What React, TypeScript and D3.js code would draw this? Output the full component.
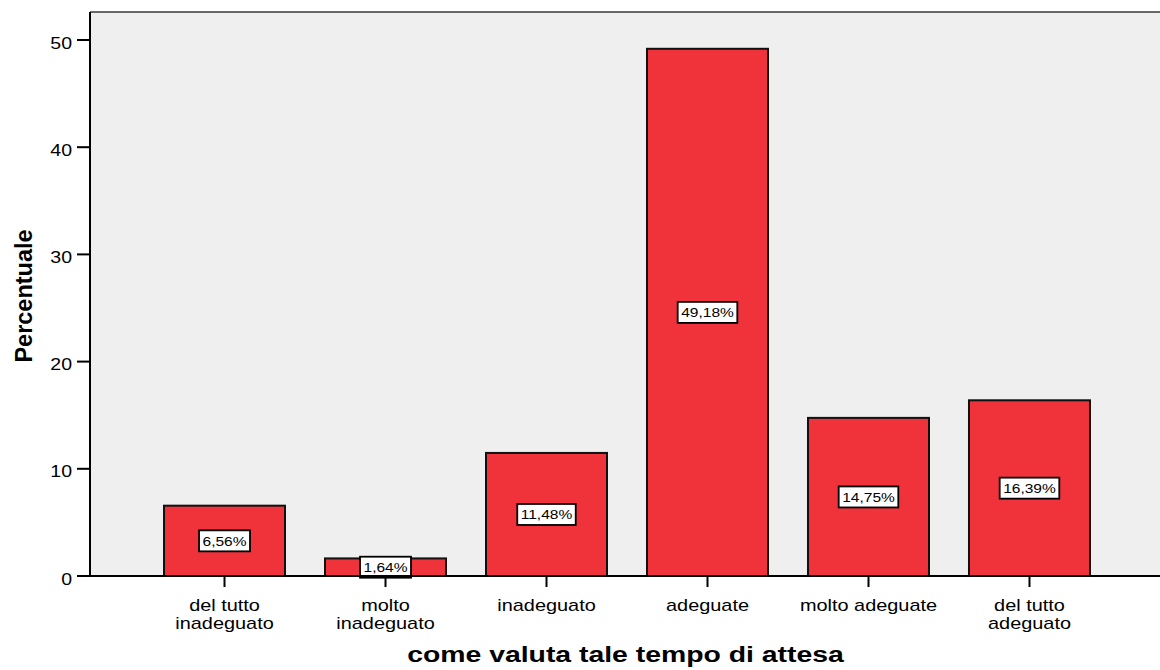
import React, { useRef, useEffect } from 'react'
import * as d3 from 'd3'

// dati
const categories = ['del tutto|inadeguato', 'molto|inadeguato', 'inadeguato', 'adeguate', 'molto adeguate', 'del tutto|adeguato']
const percentages = [6.56, 1.64, 11.48, 49.18, 14.75, 16.39]
const yTicks = [0, 10, 20, 30, 40, 50]
const xTitle = 'come valuta tale tempo di attesa'
const yTitle = 'Percentuale'

const W = 1160
const H = 670
const FONT = '"Liberation Sans", Arial, sans-serif'

const it = d3.formatLocale({ decimal: ',', thousands: '.', grouping: [3], currency: ['€', ''] })
const fmt = it.format('.2f')

export default function App() {
  const svgRef = useRef<SVGSVGElement>(null)

  useEffect(() => {
    if (!svgRef.current) return
    const svg = d3.select(svgRef.current)
    svg.selectAll('*').remove()

    const left = 90
    const top = 12
    const bottom = 576

    const x = d3.scaleBand<string>()
      .domain(categories)
      .range([left, 1164])
      .paddingInner(0.2484)
      .paddingOuter(0.4597)

    const y = d3.scaleLinear().domain([0, 50]).range([bottom, 40])

    // testo allargato orizzontalmente come nell'originale
    const addText = (g: any, tx: number, ty: number, sx: number, txt: string, size: number, anchor: string, weight = 'normal') => {
      const t = g.append('g')
        .attr('transform', `translate(${tx},${ty}) scale(${sx},1)`)
        .append('text')
        .attr('text-anchor', anchor)
        .style('font-family', FONT)
        .style('font-size', size + 'px')
        .style('font-weight', weight)
        .attr('fill', '#000')
        .text(txt)
      return t
    }

    // sfondo
    svg.append('rect')
      .attr('x', left).attr('y', top)
      .attr('width', W - left).attr('height', bottom - top)
      .attr('fill', '#efefef')

    svg.append('line')
      .attr('x1', left).attr('x2', W)
      .attr('y1', top).attr('y2', top)
      .attr('stroke', '#3a3a3a').attr('stroke-width', 1.6)

    // barre
    svg.selectAll('.bar')
      .data(percentages)
      .enter()
      .append('rect')
      .attr('class', 'bar')
      .attr('x', (d, i) => x(categories[i])!)
      .attr('y', d => y(d))
      .attr('width', x.bandwidth())
      .attr('height', d => bottom - y(d))
      .attr('fill', '#f0323a')
      .attr('stroke', '#111')
      .attr('stroke-width', 2)

    // etichette valore
    percentages.forEach((v, i) => {
      const cx = x(categories[i])! + x.bandwidth() / 2
      const cy = y(v / 2)
      const g = svg.append('g')
      const box = g.append('rect').attr('fill', '#fff').attr('stroke', '#000').attr('stroke-width', 1.8)
      const t = addText(g, cx, cy + 5, 1.15, fmt(v) + '%', 13.5, 'middle')
      const w = (t.node() as SVGTextElement).getComputedTextLength() * 1.15 + 7
      box.attr('x', cx - w / 2).attr('y', cy - 10.5).attr('width', w).attr('height', 21)
    })

    // asse y
    svg.append('line')
      .attr('x1', left).attr('x2', left)
      .attr('y1', top).attr('y2', bottom)
      .attr('stroke', '#000').attr('stroke-width', 2)

    yTicks.forEach(tk => {
      svg.append('line')
        .attr('x1', 77).attr('x2', left)
        .attr('y1', y(tk)).attr('y2', y(tk))
        .attr('stroke', '#000').attr('stroke-width', 2)
      addText(svg, 72, y(tk) + 8.5, 1.15, String(tk), 17, 'end')
    })

    // asse x
    svg.append('line')
      .attr('x1', 77).attr('x2', W)
      .attr('y1', bottom).attr('y2', bottom)
      .attr('stroke', '#000').attr('stroke-width', 2)

    categories.forEach(c => {
      const cx = x(c)! + x.bandwidth() / 2
      svg.append('line')
        .attr('x1', cx).attr('x2', cx)
        .attr('y1', bottom).attr('y2', bottom + 11)
        .attr('stroke', '#000').attr('stroke-width', 2)
      c.split('|').forEach((line, j) => {
        addText(svg, cx, 611 + j * 17.5, 1.17, line, 17, 'middle')
      })
    })

    // titoli
    addText(svg, 625.5, 662, 1.29, xTitle, 22, 'middle', 'bold')

    svg.append('text')
      .attr('transform', `translate(32,${(top + bottom) / 2 + 2}) rotate(-90)`)
      .attr('text-anchor', 'middle')
      .style('font-family', FONT)
      .style('font-size', '23.5px')
      .style('font-weight', 'bold')
      .text(yTitle)
  }, [])

  return (
    <svg
      ref={svgRef}
      width={W}
      height={H}
      style={{ position: 'absolute', left: 0, top: 0, background: '#fff' }}
    />
  )
}
